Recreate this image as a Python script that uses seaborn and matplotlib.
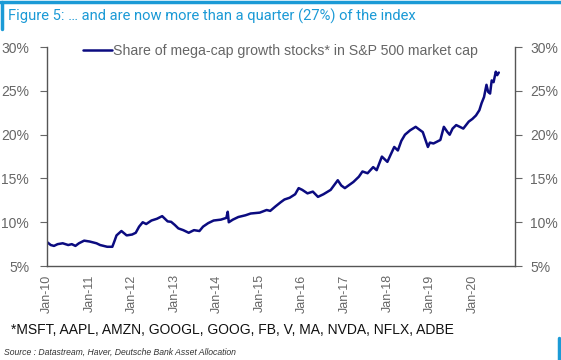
import numpy as np
import pandas as pd
import seaborn as sns
import matplotlib.pyplot as plt
import matplotlib.dates as mdates
from matplotlib.ticker import FuncFormatter

# values
dates = ["2010-01-04", "2010-02-01", "2010-03-01", "2010-04-01", "2010-05-15", "2010-07-01",
         "2010-08-01", "2010-09-01", "2010-10-01", "2010-11-15", "2011-01-01", "2011-03-01",
         "2011-04-01", "2011-06-01", "2011-07-15", "2011-08-01", "2011-08-20", "2011-10-01",
         "2011-11-15", "2012-01-01", "2012-02-01", "2012-03-01", "2012-04-01", "2012-05-01",
         "2012-06-15", "2012-08-01", "2012-09-15", "2012-11-01", "2012-12-01", "2013-01-01",
         "2013-02-01", "2013-03-15", "2013-05-01", "2013-06-15", "2013-08-01", "2013-09-01",
         "2013-10-15", "2013-12-01", "2014-02-01", "2014-03-20", "2014-04-01", "2014-04-10",
         "2014-05-15", "2014-07-01", "2014-09-01", "2014-10-15", "2015-01-01", "2015-03-01",
         "2015-04-01", "2015-05-15", "2015-07-01", "2015-08-01", "2015-09-15", "2015-11-01",
         "2015-12-01", "2016-01-01", "2016-02-15", "2016-04-01", "2016-05-15", "2016-07-01",
         "2016-09-01", "2016-11-01", "2016-12-01", "2017-01-01", "2017-02-01", "2017-03-15",
         "2017-05-01", "2017-06-01", "2017-07-15", "2017-09-01", "2017-10-01", "2017-11-15",
         "2018-01-01", "2018-02-01", "2018-03-01", "2018-04-01", "2018-05-01", "2018-06-01",
         "2018-07-15", "2018-09-01", "2018-10-01", "2018-11-01", "2018-12-15", "2019-01-01",
         "2019-02-01", "2019-04-01", "2019-05-01", "2019-06-01", "2019-06-20", "2019-07-15",
         "2019-08-15", "2019-09-15", "2019-10-15", "2019-12-01", "2020-01-01", "2020-02-01",
         "2020-03-01", "2020-03-20", "2020-04-10", "2020-05-01", "2020-05-15", "2020-06-01",
         "2020-06-15", "2020-07-01", "2020-07-20", "2020-08-01", "2020-08-15"]
share = [7.7, 7.4, 7.3, 7.5, 7.6, 7.4,
         7.5, 7.3, 7.6, 7.9, 7.8, 7.6,
         7.4, 7.2, 7.2, 7.8, 8.5, 9.0,
         8.5, 8.6, 8.8, 9.5, 10.0, 9.8,
         10.2, 10.4, 10.7, 10.1, 10.05, 9.7,
         9.3, 9.1, 8.8, 9.1, 9.0, 9.5,
         9.9, 10.2, 10.3, 10.5, 11.2, 10.0,
         10.3, 10.6, 10.8, 11.0, 11.1, 11.4,
         11.3, 11.8, 12.3, 12.6, 12.8, 13.2,
         13.9, 13.7, 13.3, 13.5, 12.9, 13.2,
         13.7, 14.8, 14.2, 13.9, 14.2, 14.6,
         15.2, 15.8, 15.6, 16.3, 15.95, 17.5,
         16.9, 17.8, 18.6, 18.2, 19.3, 20.0,
         20.5, 20.9, 20.6, 20.3, 18.6, 19.1,
         19.0, 19.4, 20.9, 20.3, 20.0, 20.7,
         21.1, 20.9, 20.7, 21.5, 21.8, 22.2,
         22.8, 23.6, 24.3, 25.7, 24.9, 24.7,
         26.2, 26.0, 27.2, 26.8, 27.1]
label = "Share of mega-cap growth stocks* in S&P 500 market cap"
title = "Figure 5: \u2026 and are now more than a quarter (27%) of the index"
footnote = "*MSFT, AAPL, AMZN, GOOGL, GOOG, FB, V, MA, NVDA, NFLX, ADBE"
source = "Source : Datastream, Haver, Deutsche Bank Asset Allocation"
yticks = [5, 10, 15, 20, 25, 30]

df = pd.DataFrame({"date": pd.to_datetime(dates), "share": share})

sns.set_style("white")
plt.rcParams["font.family"] = ["Liberation Sans", "DejaVu Sans"]

grey = "#666666"
fig = plt.figure(figsize=(5.61, 3.6), dpi=100)
ax = fig.add_axes([0.084, 0.261, 0.834, 0.608])
sns.lineplot(data=df, x="date", y="share", ax=ax, color="#0b0b80", lw=1.8, label=label)

ax.set_xlim(pd.Timestamp("2010-01-01"), pd.Timestamp("2021-01-01"))
ax.set_ylim(5, 30)
ax.set_xlabel("")
ax.set_ylabel("")
ax.set_xticks(pd.date_range("2010-01-01", "2020-01-01", freq="YS"))
ax.xaxis.set_major_formatter(mdates.DateFormatter("%b-%y"))
pct = FuncFormatter(lambda v, p: f"{v:.0f}%")
ax.set_yticks(yticks)
ax.yaxis.set_major_formatter(pct)
ax.tick_params(axis="x", rotation=90, labelsize=9, colors=grey, length=0, pad=6)
ax.tick_params(axis="y", labelsize=10, colors=grey, length=5, width=0.8, left=True, pad=8)

ax2 = ax.twinx()
ax2.set_ylim(5, 30)
ax2.set_yticks(yticks)
ax2.yaxis.set_major_formatter(pct)
ax2.tick_params(axis="y", labelsize=10, colors=grey, length=5, width=0.8, right=True, pad=6)
ax2.grid(False)

for a in (ax, ax2):
    a.spines["top"].set_visible(False)
    for s in ("left", "right", "bottom"):
        a.spines[s].set_color("#555555")
        a.spines[s].set_linewidth(1.0)
ax.spines["right"].set_visible(False)
ax2.spines["left"].set_visible(False)
ax2.spines["bottom"].set_visible(False)
for t in ax.get_yticklines() + ax2.get_yticklines():
    t.set_color("#555555")

leg = ax.legend(loc="upper left", bbox_to_anchor=(0.065, 1.04), frameon=False,
                fontsize=10.2, handlelength=2.0, handletextpad=0.1, borderaxespad=0)
for t in leg.get_texts():
    t.set_color(grey)

# title and the blue frame bits
fig.text(0.014, 0.955, title, fontsize=10.6, color="#1b9ad6", va="center", family=["Roboto", "DejaVu Sans"])
fig.add_artist(plt.Line2D([0, 1], [0.994, 0.994], color="#1b9ad6", lw=2.5))
fig.add_artist(plt.Line2D([0.004, 0.004], [0.994, 0.92], color="#1b9ad6", lw=2.5))
fig.add_artist(plt.Line2D([0.996, 0.996], [0.06, 0.0], color="#1b9ad6", lw=2.5))
fig.text(0.02, 0.082, footnote, fontsize=10, color="#111111", va="center")
fig.text(0.008, 0.022, source, fontsize=6.2, color="#333333", style="italic", va="center")

fig.savefig("out.png", dpi=100)
